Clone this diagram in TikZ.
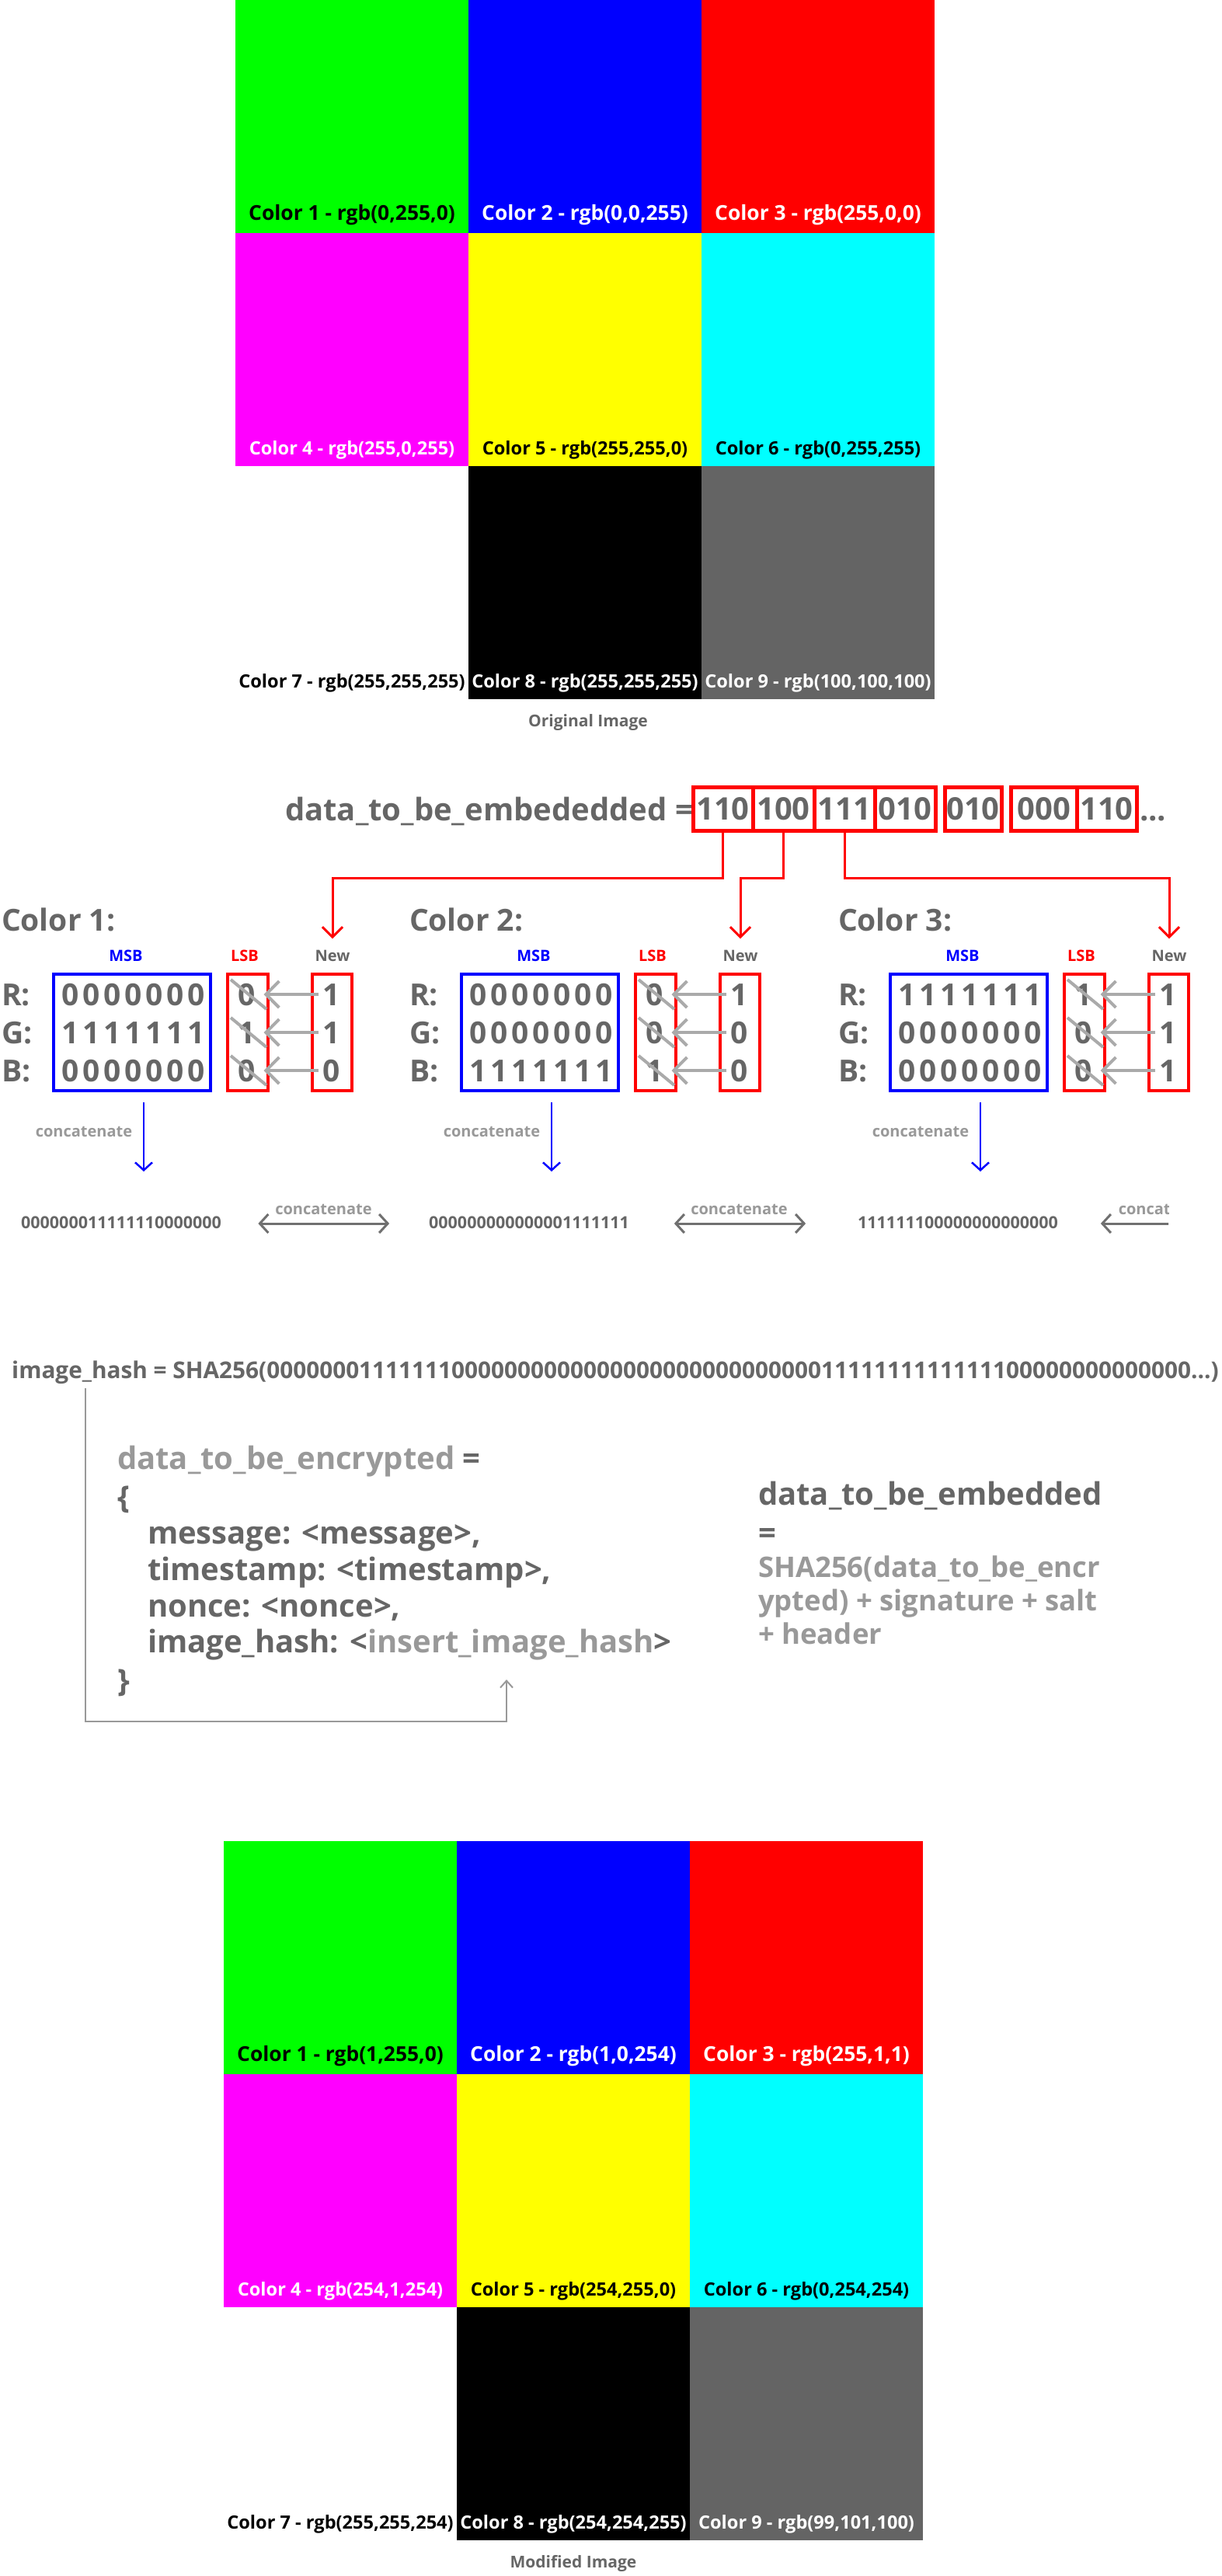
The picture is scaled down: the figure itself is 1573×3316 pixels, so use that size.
\documentclass[tikz,border=0pt]{standalone}
\usepackage{fontspec}
\setmainfont{Open Sans}
\usetikzlibrary{arrows.meta,calc}
\definecolor{dk}{HTML}{666666}
\definecolor{lt}{HTML}{999999}
\definecolor{strk}{HTML}{AAAAAA}
\definecolor{dbl}{HTML}{707070}
\definecolor{gnine}{HTML}{646464}
\definecolor{pgreen}{HTML}{00FF00}
\definecolor{pblue}{HTML}{0000FF}
\definecolor{pred}{HTML}{FF0000}
\definecolor{pmag}{HTML}{FF00FF}
\definecolor{pyel}{HTML}{FFFF00}
\definecolor{pcyan}{HTML}{00FFFF}
\newcommand\fs[1]{\fontsize{#1}{#1}\selectfont}
\newcommand\dgs[1]{\ifx#1\relax\else\makebox[27pt]{#1}\expandafter\dgs\fi}
\newcommand\hzero{0000000}
\newcommand\hone{1111111}
\begin{document}
\begin{tikzpicture}[x=1pt,y=-1pt,
  T/.style={inner sep=0pt, outer sep=0pt, font=\bfseries\fs{#1}, text height={0.72*#1pt}, text depth=0pt},
  cell/.style={inner sep=0pt, outer sep=0pt, anchor=north west, minimum width=300pt, minimum height=300pt},
  rbox/.style={draw=pred, line width=5pt, inner sep=0pt, outer sep=0pt, minimum height=56.5pt},
  bitbox/.style={line width=4pt, inner sep=0pt, outer sep=0pt, anchor=north west, minimum height=150.5pt},
  redc/.style={draw=pred, line width=3pt, -{Straight Barb[length=13pt,width=26pt]}},
  garrow/.style={draw=strk, line width=4pt, -{Straight Barb[length=17pt,width=34pt]}},
  strike/.style={draw=strk, line width=4pt},
  barrow/.style={draw=pblue, line width=2.5pt, -{Straight Barb[length=10pt,width=22pt]}},
  darrow/.style={draw=dbl, line width=3pt, {Straight Barb[length=11pt,width=24pt]}-{Straight Barb[length=11pt,width=24pt]}},
  larrow/.style={draw=dbl, line width=3pt, {Straight Barb[length=11pt,width=24pt]}-},
  gline/.style={draw=lt, line width=2pt, -{Straight Barb[length=9pt,width=16pt]}}
]
\fill[white] (0,0) rectangle (1573,3316);
\useasboundingbox (0,0) rectangle (1573,3316);

% ---------- Original image ----------
\foreach \n/\cl/\rw/\fc/\tc/\sz/\off/\lab in {
 1/0/0/pgreen/black/26.4/26/{Color 1 - rgb(0,255,0)},
 2/1/0/pblue/white/26.4/26/{Color 2 - rgb(0,0,255)},
 3/2/0/pred/white/26.4/26/{Color 3 - rgb(255,0,0)},
 4/0/1/pmag/white/23.6/23.4/{Color 4 - rgb(255,0,255)},
 5/1/1/pyel/black/23.6/23.4/{Color 5 - rgb(255,255,0)},
 6/2/1/pcyan/black/23.6/23.4/{Color 6 - rgb(0,255,255)},
 7/0/2/white/black/23.6/23/{Color 7 - rgb(255,255,255)},
 8/1/2/black/white/23.6/23/{Color 8 - rgb(255,255,255)},
 9/2/2/gnine/white/23.6/23/{Color 9 - rgb(100,100,100)}}
{
 \node[cell, fill=\fc] (o\n) at ({303+\cl*300},{\rw*300}) {};
 \node[T=\sz, text=\tc] (ot\n) at ($(o\n.south)+(0,-\off)$) {\lab};
}
\node[T=21, text=dk] (origcap) at (757,928) {Original Image};

% ---------- data to be embedded ----------
\node[T=40, text=dk, anchor=west] (eq) at (367,1042.5) {data\_to\_be\_embededded =};
\node[T=40, text=dk, rbox, minimum width=77pt] (b1) at (930.5,1041.25) {110};
\node[T=40, text=dk, rbox, minimum width=79pt] (b2) at (1008.5,1041.25) {100};
\node[T=40, text=dk, rbox, minimum width=78pt] (b3) at (1087,1041.25) {111};
\node[T=40, text=dk, rbox, minimum width=78pt] (b4) at (1165,1041.25) {010};
\node[T=40, text=dk, rbox, minimum width=73pt] (b5) at (1252.5,1041.25) {010};
\node[T=40, text=dk, rbox, minimum width=84.5pt] (b6) at (1343.75,1041.25) {000};
\node[T=40, text=dk, rbox, minimum width=77pt] (b7) at (1424.5,1041.25) {110};
\node[T=40, text=dk, anchor=west] (dots) at (1467,1042.5) {...};

% ---------- colour blocks ----------
\foreach \k/\dx/\Rb/\Gb/\Bb/\lr/\lg/\lb/\nr/\ng/\nb/\cat in {
 1/0/0000000/1111111/0000000/0/1/0/1/1/0/000000011111110000000,
 2/525/0000000/0000000/1111111/0/0/1/1/0/0/000000000000001111111,
 3/1077/1111111/0000000/0000000/1/0/0/1/1/1/111111100000000000000}
{
 \node[T=39, text=dk, anchor=west] (c\k) at (2+\dx,1184) {Color \k:};
 \node[T=20, text=pblue] (msbl\k) at (162+\dx,1230.5) {MSB};
 \node[T=20, text=pred] (lsbl\k) at (315+\dx,1230.5) {LSB};
 \node[T=20, text=dk] (nw\k) at (428+\dx,1230.5) {New};
 \node[bitbox, draw=pblue, minimum width=202pt] (msb\k) at (69+\dx,1253.5) {};
 \node[bitbox, draw=pred, minimum width=51.6pt] (lsb\k) at (293+\dx,1253.5) {};
 \node[bitbox, draw=pred, minimum width=51pt] (new\k) at (402+\dx,1253.5) {};
 % rows
 \node[T=39, text=dk, anchor=west] (rl\k) at (2+\dx,1280) {R:};
 \node[T=39, text=dk, anchor=west] (gl\k) at (2+\dx,1329) {G:};
 \node[T=39, text=dk, anchor=west] (bl\k) at (2+\dx,1378) {B:};
 \node[T=39, text=dk] (rb\k) at (171.5+\dx,1280) {\expandafter\dgs\Rb\relax};
 \node[T=39, text=dk] (gb\k) at (171.5+\dx,1329) {\expandafter\dgs\Gb\relax};
 \node[T=39, text=dk] (bb\k) at (171.5+\dx,1378) {\expandafter\dgs\Bb\relax};
 \node[T=39, text=dk] (rs\k) at (317.6+\dx,1280) {\lr};
 \node[T=39, text=dk] (gs\k) at (317.6+\dx,1329) {\lg};
 \node[T=39, text=dk] (bs\k) at (317.6+\dx,1378) {\lb};
 \node[T=39, text=dk] (rn\k) at (427+\dx,1280) {\nr};
 \node[T=39, text=dk] (gn\k) at (427+\dx,1329) {\ng};
 \node[T=39, text=dk] (bn\k) at (427+\dx,1378) {\nb};
 \foreach \row in {r,g,b}{
  \draw[strike] ($(\row s\k.center)+(-20.6,-19)$) -- ($(\row s\k.center)+(25.4,19)$);
  \draw[garrow] ($(\row n\k.center)+(-17,0)$) -- ($(\row s\k.center)+(21.9,0)$);
 }
 % concatenation
 \node[T=21.5, text=dk] (cat\k) at (156+\dx,1574) {\cat};
 \draw[barrow] ($(msb\k.south)+(15,15)$) -- ($(msb\k.south)+(15,104)$);
 \node[T=20, text=lt] (cl\k) at (108+\dx,1456.5) {concatenate};
}

% red connectors from the data boxes
\coordinate (lev) at (0,1130);
\draw[redc] (b1.south) -- (b1.south |- lev) -| ($(nw1.north)+(0,-15)$);
\draw[redc] (b2.south) -- (b2.south |- lev) -| ($(nw2.north)+(0,-15)$);
\draw[redc] (b3.south) -- (b3.south |- lev) -| ($(nw3.north)+(0,-15)$);

% double arrows between concatenated strings
\draw[darrow] ($(cat1.east)+(47.5,1)$) -- ($(cat2.west)+(-51,1)$);
\node[T=20, text=lt] (ca1) at (416.5,1556) {concatenate};
\draw[darrow] ($(cat2.east)+(58,1)$) -- ($(cat3.west)+(-67,1)$);
\node[T=20, text=lt] (ca2) at (951.5,1556) {concatenate};
\begin{scope}
 \clip (1380,1500) rectangle (1504,1620);
 \draw[larrow] ($(cat3.east)+(55,1)$) -- ++(167,0);
 \node[T=20, text=lt] (ca3) at (1502,1556) {concatenate};
\end{scope}

% ---------- image hash ----------
\node[anchor=base west, inner sep=0pt, text=dk, font=\bfseries\fs{30}] (hash) at (15,1774)
 {\resizebox{1553pt}{!}{image\_hash = SHA256(\hzero\hone\hzero\hzero\hzero\hzero\hone\hone\hzero\hzero...)}};

\node[T=40, anchor=west, text=lt] (enc) at (151,1877) {data\_to\_be\_encrypted \textcolor{dk}{=}};
\node[T=40, anchor=west, text=dk] (ob) at (151,1927) {\{};
\node[T=40, anchor=west, text=dk] (l1) at (190,1973) {message: <message>,};
\node[T=40, anchor=west, text=dk] (l2) at (190,2020) {timestamp: <timestamp>,};
\node[T=40, anchor=west, text=dk] (l3) at (190,2067) {nonce: <nonce>,};
\node[T=40, anchor=west, text=dk] (l4) at (190,2113) {image\_hash: <\textcolor{lt}{insert\_image\_hash}>};
\node[T=40, anchor=west, text=dk] (cb) at (151,2163) {\}};

\coordinate (hs) at (110,1787);
\coordinate (bot) at (0,2216);
\coordinate (tip) at (652,2162);
\draw[gline] (hs) -- (hs |- bot) -- (tip |- bot) -- (tip);

\node[T=40, anchor=west, text=dk] (emb) at (976,1923) {data\_to\_be\_embedded};
\node[T=40, anchor=west, text=dk] (eq2) at (976,1973) {=};
\node[T=36.5, anchor=west, text=lt] (s1) at (976,2017) {SHA256(data\_to\_be\_encr};
\node[T=36.5, anchor=west, text=lt] (s2) at (976,2060) {ypted) + signature + salt};
\node[T=36.5, anchor=west, text=lt] (s3) at (976,2103) {+ header};

% ---------- Modified image ----------
\foreach \n/\cl/\rw/\fc/\tc/\sz/\off/\lab in {
 1/0/0/pgreen/black/26.4/26/{Color 1 - rgb(1,255,0)},
 2/1/0/pblue/white/26.4/26/{Color 2 - rgb(1,0,254)},
 3/2/0/pred/white/26.4/26/{Color 3 - rgb(255,1,1)},
 4/0/1/pmag/white/23.6/23/{Color 4 - rgb(254,1,254)},
 5/1/1/pyel/black/23.6/23/{Color 5 - rgb(254,255,0)},
 6/2/1/pcyan/black/23.6/23/{Color 6 - rgb(0,254,254)},
 7/0/2/white/black/23.6/23.4/{Color 7 - rgb(255,255,254)},
 8/1/2/black/white/23.6/23.4/{Color 8 - rgb(254,254,255)},
 9/2/2/gnine/white/23.6/23.4/{Color 9 - rgb(99,101,100)}}
{
 \node[cell, fill=\fc] (m\n) at ({288+\cl*300},{2370+\rw*300}) {};
 \node[T=\sz, text=\tc] (mt\n) at ($(m\n.south)+(0,-\off)$) {\lab};
}
\node[T=21, text=dk] (modcap) at (738,3298) {Modified Image};
\end{tikzpicture}
\end{document}
